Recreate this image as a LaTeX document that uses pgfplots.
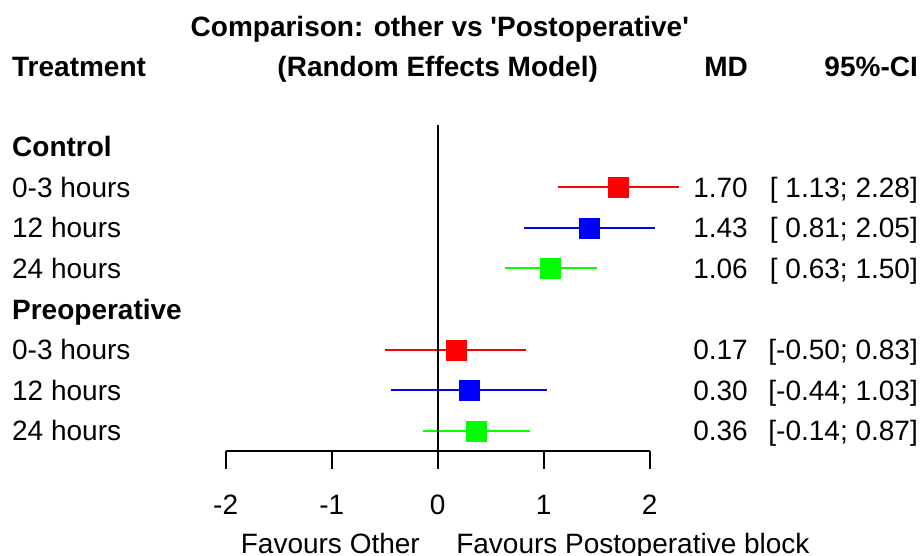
\documentclass[border=0pt]{standalone}
\usepackage{pgfplots}
\pgfplotsset{compat=1.18}
\usepackage{fontspec}
\setmainfont{Liberation Sans}[Ligatures=TeXOff]

\definecolor{fred}{RGB}{255,0,0}
\definecolor{fblue}{RGB}{0,0,255}
\definecolor{fgreen}{RGB}{0,255,0}

\begin{document}
\fontsize{28}{33}\selectfont
\begin{tikzpicture}
\begin{axis}[
  scale only axis,
  width=921pt, height=556pt,
  xmin=-4.129, xmax=4.559,
  ymin=0, ymax=556, y dir=reverse,
  hide axis, clip=false,
]
% rows are placed in pixel units (y grows downward)
% CI lines
\addplot[fred,line width=1.7pt] coordinates {(1.13,187) (2.28,187)};
\addplot[fblue,line width=1.7pt] coordinates {(0.81,228) (2.05,228)};
\addplot[fgreen,line width=1.7pt] coordinates {(0.63,268) (1.50,268)};
\addplot[fred,line width=1.7pt] coordinates {(-0.50,350) (0.83,350)};
\addplot[fblue,line width=1.7pt] coordinates {(-0.44,390) (1.03,390)};
\addplot[fgreen,line width=1.7pt] coordinates {(-0.14,431) (0.87,431)};
% point estimates
\addplot[only marks,mark=square*,mark size=10pt,fred,mark options={draw=fred,fill=fred}] coordinates {(1.70,187) (0.17,350)};
\addplot[only marks,mark=square*,mark size=10pt,fblue,mark options={draw=fblue,fill=fblue}] coordinates {(1.43,228) (0.30,390)};
\addplot[only marks,mark=square*,mark size=10pt,fgreen,mark options={draw=fgreen,fill=fgreen}] coordinates {(1.06,268) (0.36,431)};

% reference line and x axis
\draw[line width=2pt] (axis cs:0,125) -- (axis cs:0,451);
\draw[line width=2pt] (axis cs:-2,451) -- (axis cs:2,451);
\pgfplotsinvokeforeach{-2,-1,0,1,2}{
  \draw[line width=2pt] (axis cs:#1,451) -- (axis cs:#1,469);
  \node[anchor=base,inner sep=0] at (axis cs:#1,514) {#1};
}
\node[anchor=base east,inner sep=0] at (axis cs:-0.167,553) {Favours Other};
\node[anchor=base west,inner sep=0] at (axis cs:0.173,553) {Favours Postoperative block};

% headers
\node[anchor=base,inner sep=0] at (axis cs:0.02,37) {\bfseries Comparison: other vs 'Postoperative'};
\node[anchor=base,inner sep=0] at (axis cs:0,77) {\bfseries (Random Effects Model)};
\node[anchor=base west,inner sep=0] at (axis cs:-4.016,77) {\bfseries Treatment};
\node[anchor=base east,inner sep=0] at (axis cs:2.927,77) {\bfseries MD};
\node[anchor=base east,inner sep=0] at (axis cs:4.531,77) {\bfseries 95\%-CI};

% row labels
\node[anchor=base west,inner sep=0] at (axis cs:-4.016,157) {\bfseries Control};
\node[anchor=base west,inner sep=0] at (axis cs:-4.016,197.5) {0-3 hours};
\node[anchor=base west,inner sep=0] at (axis cs:-4.016,238) {12 hours};
\node[anchor=base west,inner sep=0] at (axis cs:-4.016,278.5) {24 hours};
\node[anchor=base west,inner sep=0] at (axis cs:-4.016,319) {\bfseries Preoperative};
\node[anchor=base west,inner sep=0] at (axis cs:-4.016,359.5) {0-3 hours};
\node[anchor=base west,inner sep=0] at (axis cs:-4.016,400) {12 hours};
\node[anchor=base west,inner sep=0] at (axis cs:-4.016,440.5) {24 hours};

% MD and CI columns
\node[anchor=base east,inner sep=0] at (axis cs:2.927,197.5) {1.70};
\node[anchor=base east,inner sep=0] at (axis cs:2.927,238) {1.43};
\node[anchor=base east,inner sep=0] at (axis cs:2.927,278.5) {1.06};
\node[anchor=base east,inner sep=0] at (axis cs:2.927,359.5) {0.17};
\node[anchor=base east,inner sep=0] at (axis cs:2.927,400) {0.30};
\node[anchor=base east,inner sep=0] at (axis cs:2.927,440.5) {0.36};
\node[anchor=base east,inner sep=0] at (axis cs:4.531,197.5) {[ 1.13; 2.28]};
\node[anchor=base east,inner sep=0] at (axis cs:4.531,238) {[ 0.81; 2.05]};
\node[anchor=base east,inner sep=0] at (axis cs:4.531,278.5) {[ 0.63; 1.50]};
\node[anchor=base east,inner sep=0] at (axis cs:4.531,359.5) {[-0.50; 0.83]};
\node[anchor=base east,inner sep=0] at (axis cs:4.531,400) {[-0.44; 1.03]};
\node[anchor=base east,inner sep=0] at (axis cs:4.531,440.5) {[-0.14; 0.87]};
\end{axis}
\pgfresetboundingbox
\useasboundingbox (current axis.south west) rectangle (current axis.north east);
\end{tikzpicture}
\end{document}
